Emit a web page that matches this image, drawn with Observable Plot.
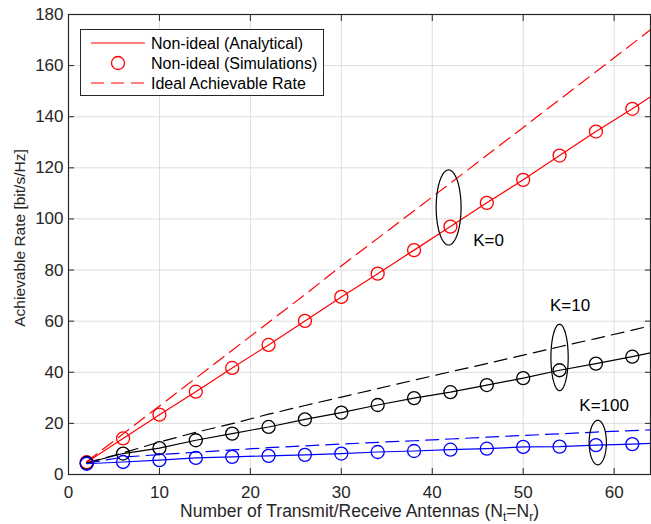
<!DOCTYPE html>
<html><head><meta charset="utf-8">
<script src="https://cdn.jsdelivr.net/npm/d3@7"></script>
<script src="https://cdn.jsdelivr.net/npm/@observablehq/plot@0.6"></script>
<style>
body{margin:0;background:#fff;}
#chart{width:651px;height:524px;}
</style>
</head><body><div id="chart"></div>
<script>
// ---- data ----
const antennas      = [2, 6, 10, 14, 18, 22, 26, 30, 34, 38, 42, 46, 50, 54, 58, 62, 64];
const k0Analytical  = [4.8, 14.1, 23.4, 32.4, 41.7, 50.7, 60.1, 69.5, 78.6, 87.8, 97.0, 106.3, 115.3, 124.8, 134.2, 143.1, 147.8];
const k0Ideal       = [5.0, 15.9, 26.8, 37.7, 48.6, 59.5, 70.4, 81.6, 92.4, 103.2, 114.0, 124.9, 135.8, 146.7, 157.6, 168.5, 174.0];
const k10Analytical = [4.5, 8.2, 10.3, 13.4, 16.0, 18.6, 21.6, 24.2, 27.2, 29.9, 32.2, 35.0, 37.7, 40.8, 43.4, 46.1, 47.6];
const k10Ideal      = [4.6, 8.5, 12.7, 16.5, 19.9, 23.6, 27.0, 30.3, 33.6, 36.9, 40.2, 43.4, 46.7, 50.0, 53.2, 56.5, 58.2];
const k100Analytical= [4.2, 4.9, 5.6, 6.5, 6.9, 7.3, 7.7, 8.2, 8.8, 9.2, 9.7, 10.1, 10.8, 10.9, 11.5, 11.9, 12.2];
const k100Ideal     = [4.4, 6.8, 7.8, 8.7, 9.6, 10.5, 11.2, 11.9, 12.6, 13.2, 13.9, 14.6, 15.3, 15.9, 16.6, 17.2, 17.5];
const simCount = 16; // simulation markers at 2..62

const seriesNames  = ["K=0", "K=10", "K=100"];
const seriesColors = ["#ff0000", "#000000", "#0000ff"];

const xTicks = [0, 10, 20, 30, 40, 50, 60];
const yTicks = [0, 20, 40, 60, 80, 100, 120, 140, 160, 180];

const kLabelX = [46.2, 55.15, 58.9];
const kLabelY = [91.4, 66.0, 26.8];
const ellipseCx = [41.8, 54.0, 58.2];
const ellipseCy = [104.5, 45.8, 12.5];
const ellipseRx = [1.37, 0.95, 0.95];
const ellipseRy = [14.7, 13.0, 8.7];

const legendLabels = ["Non-ideal (Analytical)", "Non-ideal (Simulations)", "Ideal Achievable Rate"];
const yLabel = "Achievable Rate [bit/s/Hz]";

// ---- tables ----
const analytical = [k0Analytical, k10Analytical, k100Analytical];
const ideal = [k0Ideal, k10Ideal, k100Ideal];
const analyticalRows = [], idealRows = [], simRows = [];
seriesNames.forEach((s, i) => {
  antennas.forEach((n, j) => {
    analyticalRows.push({s, n, v: analytical[i][j]});
    idealRows.push({s, n, v: ideal[i][j]});
    if (j < simCount) simRows.push({s, n, v: analytical[i][j]});
  });
});
const ellipseRows = [];
seriesNames.forEach((s, i) => {
  for (let t = 0; t <= 72; t++) {
    const a = t / 72 * 2 * Math.PI;
    ellipseRows.push({s, x: ellipseCx[i] + ellipseRx[i] * Math.cos(a), y: ellipseCy[i] + ellipseRy[i] * Math.sin(a)});
  }
});
const kLabelRows = seriesNames.map((s, i) => ({s, x: kLabelX[i], y: kLabelY[i]}));

const FONT = "'Liberation Sans', Arial, Helvetica, sans-serif";
const AX = "#262626";
const color = {domain: seriesNames, range: seriesColors};

const chart = Plot.plot({
  width: 651, height: 524,
  marginLeft: 68, marginRight: 1, marginTop: 14, marginBottom: 50,
  style: {fontFamily: FONT, fontSize: "17px", color: AX, background: "#fff", overflow: "visible"},
  x: {domain: [0, 64], label: null},
  y: {domain: [0, 180], label: null},
  color,
  marks: [
    Plot.gridX(xTicks, {stroke: "#dedede", strokeOpacity: 1, strokeWidth: 1}),
    Plot.gridY(yTicks, {stroke: "#dedede", strokeOpacity: 1, strokeWidth: 1}),
    Plot.line(idealRows, {x: "n", y: "v", z: "s", stroke: "s", strokeWidth: 1.2, strokeDasharray: "13,7"}),
    Plot.line(analyticalRows, {x: "n", y: "v", z: "s", stroke: "s", strokeWidth: 1.2}),
    Plot.dot(simRows, {x: "n", y: "v", stroke: "s", r: 6.5, strokeWidth: 1.3, fill: "none"}),
    Plot.line(ellipseRows, {x: "x", y: "y", z: "s", stroke: "#000", strokeWidth: 1.2, curve: "linear"}),
    Plot.text(kLabelRows, {x: "x", y: "y", text: "s", fill: "#000", fontSize: 17, textAnchor: "middle"}),
    Plot.axisX(xTicks, {anchor: "bottom", tickSize: 0, tickPadding: 11, fontSize: 17, label: null}),
    Plot.axisX(xTicks, {anchor: "bottom", tickSize: -6, tickFormat: () => "", label: null, stroke: AX}),
    Plot.axisX(xTicks, {anchor: "top", tickSize: -6, tickFormat: () => "", label: null, stroke: AX}),
    Plot.axisY(yTicks, {anchor: "left", tickSize: 0, tickPadding: 5, fontSize: 17, label: null}),
    Plot.axisY(yTicks, {anchor: "left", tickSize: -6, tickFormat: () => "", label: null, stroke: AX}),
    Plot.axisY(yTicks, {anchor: "right", tickSize: -6, tickFormat: () => "", label: null, stroke: AX}),
    Plot.frame({stroke: AX, strokeWidth: 1.2})
  ]
});
document.getElementById("chart").appendChild(chart);

// ---- axis titles and legend ----
const svg = d3.select(chart);
const xt = svg.append("text")
  .attr("x", 359.5).attr("y", 517).attr("text-anchor", "middle")
  .attr("font-family", FONT).attr("font-size", 17.5).attr("fill", AX);
xt.append("tspan").text("Number of Transmit/Receive Antennas (N");
xt.append("tspan").attr("font-size", 12).attr("dy", 4).text("t");
xt.append("tspan").attr("dy", -4).text("=N");
xt.append("tspan").attr("font-size", 12).attr("dy", 4).text("r");
xt.append("tspan").attr("dy", -4).text(")");

svg.append("text")
  .attr("transform", "translate(25,238) rotate(-90)")
  .attr("text-anchor", "middle")
  .attr("font-family", FONT).attr("font-size", 15.5).attr("fill", AX)
  .text(yLabel);

const lg = svg.append("g");
lg.append("rect").attr("x", 80.5).attr("y", 29.5).attr("width", 243).attr("height", 66)
  .attr("fill", "#fff").attr("stroke", AX).attr("stroke-width", 1);
const rowY = [43, 63, 83];
lg.append("line").attr("x1", 91).attr("x2", 145).attr("y1", rowY[0]).attr("y2", rowY[0])
  .attr("stroke", seriesColors[0]).attr("stroke-width", 1.2);
lg.append("circle").attr("cx", 118).attr("cy", rowY[1]).attr("r", 6.5)
  .attr("fill", "none").attr("stroke", seriesColors[0]).attr("stroke-width", 1.3);
lg.append("line").attr("x1", 91).attr("x2", 145).attr("y1", rowY[2]).attr("y2", rowY[2])
  .attr("stroke", seriesColors[0]).attr("stroke-width", 1.2).attr("stroke-dasharray", "13,7");
legendLabels.forEach((t, i) => {
  lg.append("text").attr("x", 151).attr("y", rowY[i]).attr("dy", "0.35em")
    .attr("text-anchor", "start")
    .attr("font-family", FONT).attr("font-size", 16).attr("fill", "#000").text(t);
});
</script>
</body></html>
